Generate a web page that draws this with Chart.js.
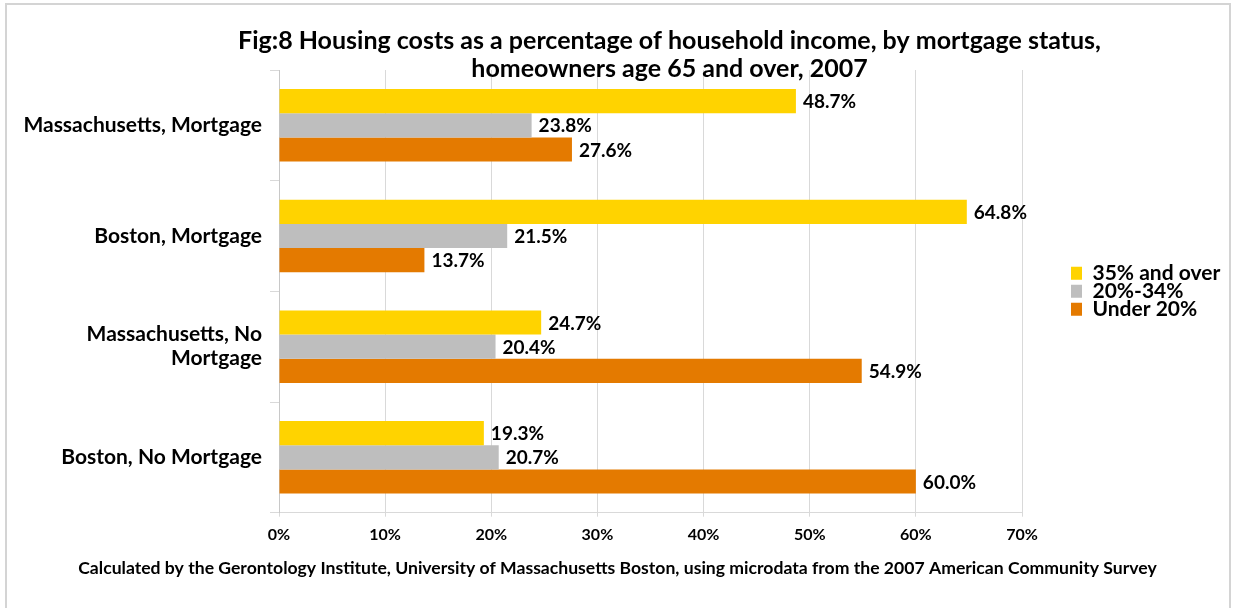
<!DOCTYPE html>
<html>
<head>
<title>Fig 8 Housing costs, homeowners 65+</title>
<script src="https://cdn.jsdelivr.net/npm/chart.js@4.4.1/dist/chart.umd.min.js"></script>
<style>
  body { margin: 0; background: #fff; }
  #wrap { position: relative; width: 1235px; height: 608px; }
  #frame { position: absolute; left: 5px; top: 3px; width: 1226px; height: 640px; border: 2px solid #d4d4d4; box-sizing: border-box; pointer-events: none; }
</style>
</head>
<body>
<div id="wrap">
  <canvas id="chart"></canvas>
  <div id="frame"></div>
</div>
<script>
// categories, top to bottom
const places = [
  'Massachusetts, Mortgage',
  'Boston, Mortgage',
  ['Massachusetts, No', 'Mortgage'],
  'Boston, No Mortgage'
];
const seriesNames = ['35% and over', '20%-34%', 'Under 20%'];
const over35 = [48.7, 64.8, 24.7, 19.3];
const from20to34 = [23.8, 21.5, 20.4, 20.7];
const under20 = [27.6, 13.7, 54.9, 60.0];
const colors = ['#FFD300', '#BEBEBE', '#E47A00'];

const font = 'Lato';
Chart.defaults.font.family = font;
Chart.defaults.font.weight = 'bold';
Chart.defaults.color = '#000';

// value labels at the bar ends
const barLabels = {
  id: 'barLabels',
  afterDatasetsDraw(chart) {
    const ctx = chart.ctx;
    ctx.save();
    ctx.font = 'bold 19px ' + font;
    ctx.fillStyle = '#000';
    ctx.textBaseline = 'middle';
    ctx.textAlign = 'left';
    chart.data.datasets.forEach((ds, i) => {
      chart.getDatasetMeta(i).data.forEach((bar, j) => {
        ctx.fillText(ds.data[j].toFixed(1) + '%', bar.x + 7, bar.y + 1);
      });
    });
    ctx.restore();
  }
};

// legend sits away from the plot, title centred a bit right like the original
const placeBoxes = {
  id: 'placeBoxes',
  beforeInit(chart) {
    const fit = chart.legend.fit;
    chart.legend.fit = function () {
      fit.call(this);
      this.width = 213;
    };
  },
  afterLayout(chart) {
    chart.legend.left += 49;
    chart.titleBlock.left += 52;
    chart.titleBlock.right += 52;
  }
};

new Chart(document.getElementById('chart'), {
  type: 'bar',
  data: {
    labels: places,
    datasets: [
      { label: seriesNames[0], data: over35, backgroundColor: colors[0] },
      { label: seriesNames[1], data: from20to34, backgroundColor: colors[1] },
      { label: seriesNames[2], data: under20, backgroundColor: colors[2] }
    ]
  },
  options: {
    indexAxis: 'y',
    responsive: true,
    maintainAspectRatio: false,
    animation: false,
    categoryPercentage: 0.655,
    barPercentage: 1,
    layout: { padding: 0 },
    scales: {
      x: {
        min: 0,
        max: 70,
        ticks: {
          stepSize: 10,
          padding: 9,
          font: { size: 16 },
          callback: v => v + '%'
        },
        grid: { color: '#d9d9d9', tickLength: 4 },
        border: { color: '#d9d9d9' }
      },
      y: {
        ticks: { padding: 8, font: { size: 21, lineHeight: 1.14 } },
        grid: { drawOnChartArea: false, color: '#d9d9d9', tickLength: 9 },
        border: { color: '#c8c8c8' },
        afterFit(scale) { scale.width = 279; }
      }
    },
    plugins: {
      title: {
        display: true,
        text: ['Fig:8 Housing costs as a percentage of household income, by mortgage status,',
               'homeowners age 65 and over, 2007'],
        font: { size: 25, lineHeight: 1.12 },
        padding: { top: 27, bottom: -13 }
      },
      subtitle: {
        display: true,
        position: 'bottom',
        text: 'Calculated by the Gerontology Institute, University of Massachusetts Boston, using microdata from the 2007 American Community Survey',
        font: { size: 17.6, weight: 'bold', lineHeight: 1.2 },
        padding: { top: 4, bottom: 29 }
      },
      legend: {
        position: 'right',
        fullSize: false,
        labels: { boxWidth: 14, boxHeight: 13, padding: -3, font: { size: 21 } }
      },
      tooltip: { enabled: false }
    }
  },
  plugins: [barLabels, placeBoxes]
});
</script>
</body>
</html>
